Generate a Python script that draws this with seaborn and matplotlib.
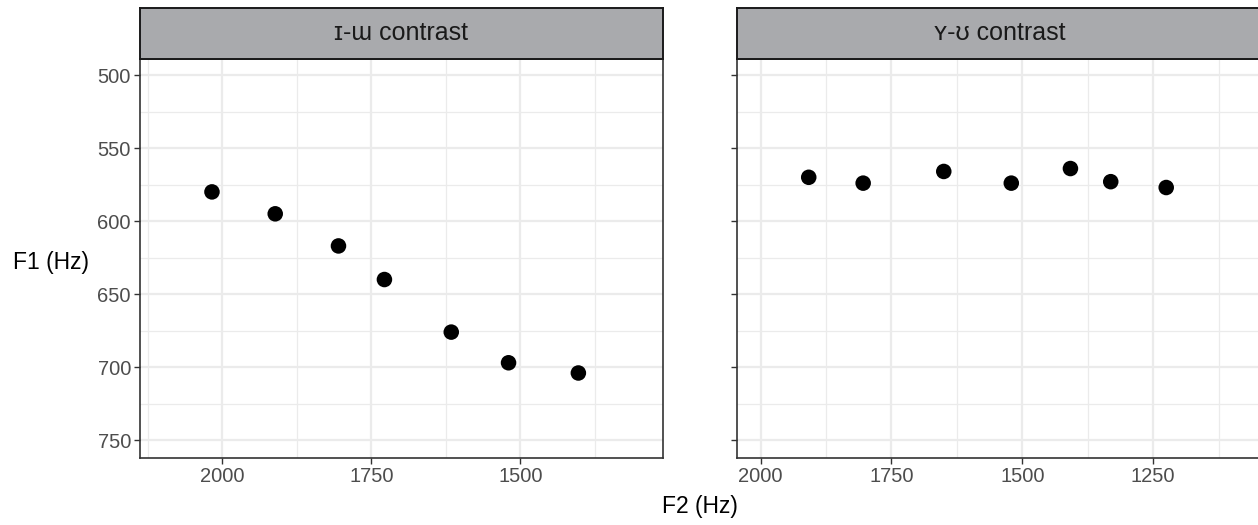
import matplotlib
matplotlib.use("Agg")
import matplotlib.pyplot as plt
import seaborn as sns
import pandas as pd
import numpy as np

# ---- data ----
panels = ["ɪ-ɯ contrast", "ʏ-ʊ contrast"]
f2_left = [2017, 1911, 1805, 1728, 1616, 1520, 1403]
f1_left = [580, 595, 617, 640, 676, 697, 704]
f2_right = [1908, 1804, 1650, 1521, 1408, 1331, 1225]
f1_right = [570, 574, 566, 574, 564, 573, 577]
x_ticks_left = [2000, 1750, 1500]
x_ticks_right = [2000, 1750, 1500, 1250]
y_ticks = [500, 550, 600, 650, 700, 750]

sns.set_theme(style="white")
plt.rcParams['font.family'] = ['Liberation Sans', 'DejaVu Sans']

W, H = 1258, 525
fig = plt.figure(figsize=(W / 100, H / 100), dpi=100)

def rect(x0, y0, x1, y1):
    return [x0 / W, 1 - y1 / H, (x1 - x0) / W, (y1 - y0) / H]

specs = [
    (panels[0], f2_left, f1_left, x_ticks_left, (2137.6, 1262), rect(140, 59, 662.5, 457.7), rect(140, 8, 662.5, 59), True),
    (panels[1], f2_right, f1_right, x_ticks_right, (2046, 1042), rect(736.5, 59, 1262, 457.7), rect(736.5, 8, 1262, 59), False),
]

border = "#333333"
grid_c = "#EBEBEB"
for title, xs, ys, xt, xlim, r_ax, r_strip, show_y in specs:
    ax = fig.add_axes(r_ax)
    df = pd.DataFrame({"F2": xs, "F1": ys})
    ax.set_facecolor("white")
    ax.set_xlim(*xlim)
    ax.set_ylim(762, 489)
    ax.set_xticks(xt)
    minor_x = [t - 125 for t in xt] + [xt[0] + 125]
    minor_x = [m for m in minor_x if min(xlim) <= m <= max(xlim)]
    ax.set_xticks(minor_x, minor=True)
    ax.set_yticks(y_ticks)
    ax.set_yticks([525, 575, 625, 675, 725], minor=True)
    ax.grid(True, which="major", color=grid_c, linewidth=1.6)
    ax.grid(True, which="minor", color=grid_c, linewidth=0.9)
    ax.set_axisbelow(True)
    sns.scatterplot(data=df, x="F2", y="F1", ax=ax, color="black", s=125,
                    edgecolor="none", zorder=3)
    ax.set_xlim(*xlim)
    ax.set_ylim(762, 489)
    ax.set_xlabel("")
    ax.set_ylabel("")
    ax.tick_params(axis="both", which="major", length=4, width=1, color=border,
                   labelsize=14.5, labelcolor="#4D4D4D", pad=2.5, bottom=True, left=True)
    ax.tick_params(axis="both", which="minor", length=0)
    if not show_y:
        ax.set_yticklabels([])
    for s in ax.spines.values():
        s.set_color(border)
        s.set_linewidth(1.2)
    sa = fig.add_axes(r_strip)
    sa.set_facecolor("#A9AAAD")
    sa.set_xticks([])
    sa.set_yticks([])
    for s in sa.spines.values():
        s.set_color("#1a1a1a")
        s.set_linewidth(1.4)
    sa.text(0.5, 0.5, title, ha="center", va="center", fontsize=18,
            color="#1A1A1A", transform=sa.transAxes)

fig.text(51 / W, 1 - 262 / H, "F1 (Hz)", ha="center", va="center", fontsize=16.5, color="black")
fig.text(700 / W, 1 - 507 / H, "F2 (Hz)", ha="center", va="center", fontsize=16.5, color="black")

fig.savefig("out.png", dpi=100, facecolor="white")
